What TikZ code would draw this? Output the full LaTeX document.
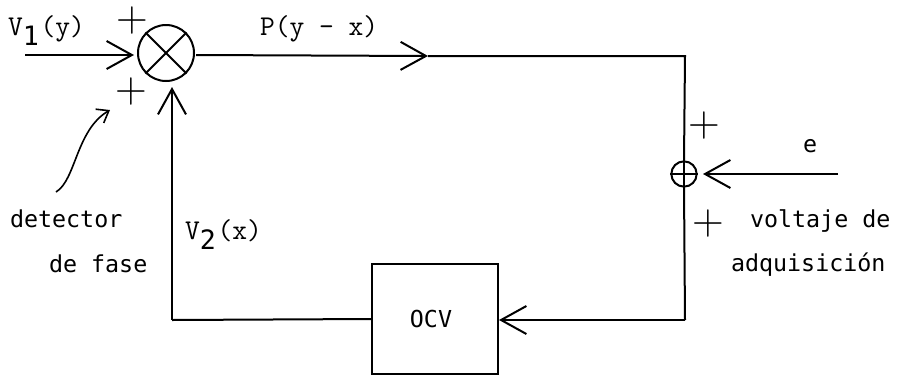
\documentclass[tikz,border=0pt]{standalone}
\usepackage{fontspec}
\newfontfamily\dotfont{DejaVu Sans Mono}
\usetikzlibrary{arrows.meta,calc}
\newcommand{\lowsub}[1]{\raisebox{-0.36em}{\fontsize{20}{20}\selectfont\dotfont #1}\kern0.06em}
\tikzset{>={Straight Barb[length=19pt,width=21pt,line width=1.5pt]}}

\begin{document}
\begin{tikzpicture}[
    x=0.75pt, y=-0.75pt,
    line width=1.5pt,
    junction/.style={draw, circle, inner sep=0pt, line width=1.5pt},
    ocvbox/.style={draw, minimum width=94pt, minimum height=83pt, line width=1.5pt, inner sep=0pt, font=\fontsize{17.5}{18}\selectfont\dotfont},
    plussign/.style={font=\fontsize{33}{33}\selectfont\rmfamily, inner sep=0pt},
    typed/.style={font=\fontsize{21.5}{21.5}\selectfont\ttfamily, inner sep=0pt, anchor=base west},
    dotlabel/.style={font=\fontsize{17.5}{18}\selectfont\dotfont, inner sep=0pt, anchor=base west}
  ]
    \useasboundingbox (0,0) rectangle (899,379);
    % blocks
    \node[junction, minimum size=42pt] (mult) at (166,53) {};
    \node[junction, minimum size=19pt] (sum) at (684,174) {};
    \node[ocvbox] (ocv) at (435,319) {OCV\kern 6pt};
    \draw (mult.45) -- (mult.225);
    \draw (mult.135) -- (mult.315);
    % free ends
    \coordinate (vin) at (25,55);
    \coordinate (vtip) at (134,55);
    \coordinate (ptip) at (428,56);
    \coordinate (ne) at (685,56);
    \coordinate (se) at (685,320);
    \coordinate (sw) at (172,320);
    \coordinate (vup) at (172,87);
    \coordinate (ein) at (838,174);
    \coordinate (etip) at (703,174);
    \coordinate (ocvtip) at (499,320);
    \coordinate (curvestart) at (56,192);
    \coordinate (curvetip) at (110,110);
    % connectors
    \draw[->] (vin) -- (vtip);
    \draw[->] (mult.east) ++(1,2) -- (ptip);
    \draw (ptip) -- (ne) -- (sum.north);
    \draw (sum.west) -- (sum.east);
    \draw (sum.north) -- (sum.south);
    \draw (sum.south) -- (se);
    \draw[->] (se) -- (ocvtip);
    \draw (ocv.west) -- (sw);
    \draw[->] (sw) -- (vup);
    \draw[->] (ein) -- (etip);
    \draw[->, >={Straight Barb[length=8pt,width=12pt]}, line width=1.2pt] (curvestart) .. controls (76,180) and (76,130) .. (curvetip);
    % signs
    \node[plussign] (plusa) at (132,21) {+};
    \node[plussign] (plusb) at (131,92) {+};
    \node[plussign] (plusc) at (704,126) {+};
    \node[plussign] (plusd) at (708,224) {+};
    % labels
    \node[typed] (vone) at (7,35) {V\lowsub{1}(y)};
    \node[typed] (pyx) at (259,35) {P(y - x)};
    \node[typed] (vtwo) at (184,239) {V\lowsub{2}(x)};
    \node[dotlabel] (e) at (802,152) {e};
    \node[dotlabel] (det) at (9,227) {detector};
    \node[dotlabel] (fase) at (48,272) {de fase};
    \node[dotlabel] (volt) at (749,227) {voltaje de};
    \node[dotlabel] (adq) at (730,271) {adquisición};
  \end{tikzpicture}
\end{document}
